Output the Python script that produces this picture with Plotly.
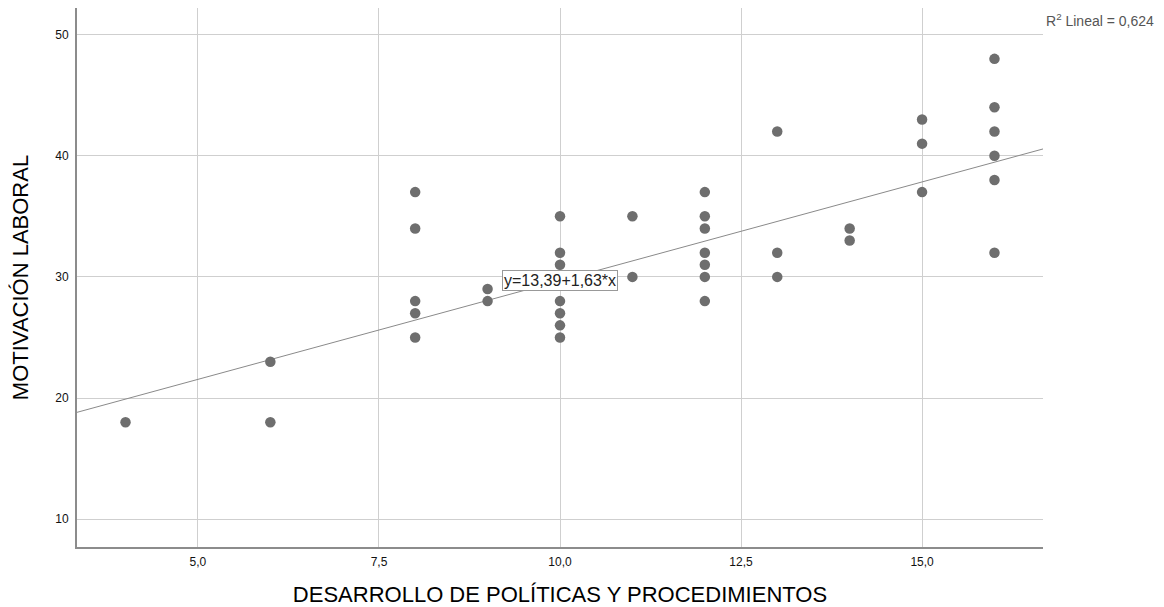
import plotly.graph_objects as go

# Data
x_vals = [4,
          6, 6,
          8, 8, 8, 8, 8,
          9, 9,
          10, 10, 10, 10, 10, 10, 10, 10,
          11, 11,
          12, 12, 12, 12, 12, 12, 12,
          13, 13, 13,
          14, 14,
          15, 15, 15,
          16, 16, 16, 16, 16, 16]
y_vals = [18,
          23, 18,
          37, 34, 28, 27, 25,
          29, 28,
          35, 32, 31, 30, 28, 27, 26, 25,
          35, 30,
          37, 35, 34, 32, 31, 30, 28,
          42, 32, 30,
          34, 33,
          43, 41, 37,
          48, 44, 42, 40, 38, 32]
intercept = 13.39
slope = 1.63
r2_text = "R<sup>2</sup> Lineal = 0,624"
eq_text = "y=13,39+1,63*x"
x_ticks = [5.0, 7.5, 10.0, 12.5, 15.0]
y_ticks = [10, 20, 30, 40, 50]
x_range = [3.33, 16.67]
y_range = [7.7, 52.2]

line_x = x_range
line_y = [intercept + slope * v for v in line_x]

FONT = "Liberation Sans, Arial"

fig = go.Figure()
fig.add_trace(go.Scatter(
    x=line_x, y=line_y, mode="lines",
    line=dict(color="#8a8a8a", width=1), hoverinfo="skip", showlegend=False))
fig.add_trace(go.Scatter(
    x=x_vals, y=y_vals, mode="markers",
    marker=dict(color="#6e6e6e", size=10.5, line=dict(width=0)),
    showlegend=False))

fig.add_annotation(
    x=10.0, y=29.67, xref="x", yref="y", text=eq_text, showarrow=False,
    font=dict(family=FONT, size=16, color="#222"),
    bgcolor="white", bordercolor="#999", borderwidth=1, borderpad=1)
fig.add_annotation(
    x=1, y=1, xref="paper", yref="paper", xanchor="left", yanchor="middle",
    xshift=1, yshift=-12, text=r2_text, showarrow=False,
    font=dict(family=FONT, size=14, color="#555"))

# The page body has an 8px margin, so the figure is sized/margined to compensate
fig.update_layout(
    width=1156, height=599,
    margin=dict(l=69, r=121, t=0, b=60),
    paper_bgcolor="white", plot_bgcolor="white",
    separators=",.",
    font=dict(family=FONT, color="#111"),
    xaxis=dict(
        range=x_range, tickvals=x_ticks, tickformat=".1f",
        showgrid=True, gridcolor="#cfcfcf", gridwidth=1,
        zeroline=False, showline=True, linecolor="#8c8c8c", linewidth=2,
        ticks="outside", ticklen=3, tickcolor="rgba(0,0,0,0)",
        tickfont=dict(size=12, color="#111"),
        title=dict(text="DESARROLLO DE POLÍTICAS Y PROCEDIMIENTOS",
                   font=dict(size=22, color="#000"), standoff=22)),
    yaxis=dict(
        range=y_range, tickvals=y_ticks,
        showgrid=True, gridcolor="#cfcfcf", gridwidth=1,
        zeroline=False, showline=True, linecolor="#8c8c8c", linewidth=2,
        ticks="outside", ticklen=4, tickcolor="rgba(0,0,0,0)",
        tickfont=dict(size=12, color="#111"),
        title=dict(text="MOTIVACIÓN LABORAL",
                   font=dict(size=22, color="#000"), standoff=22)),
)

fig.write_html("out.html")
